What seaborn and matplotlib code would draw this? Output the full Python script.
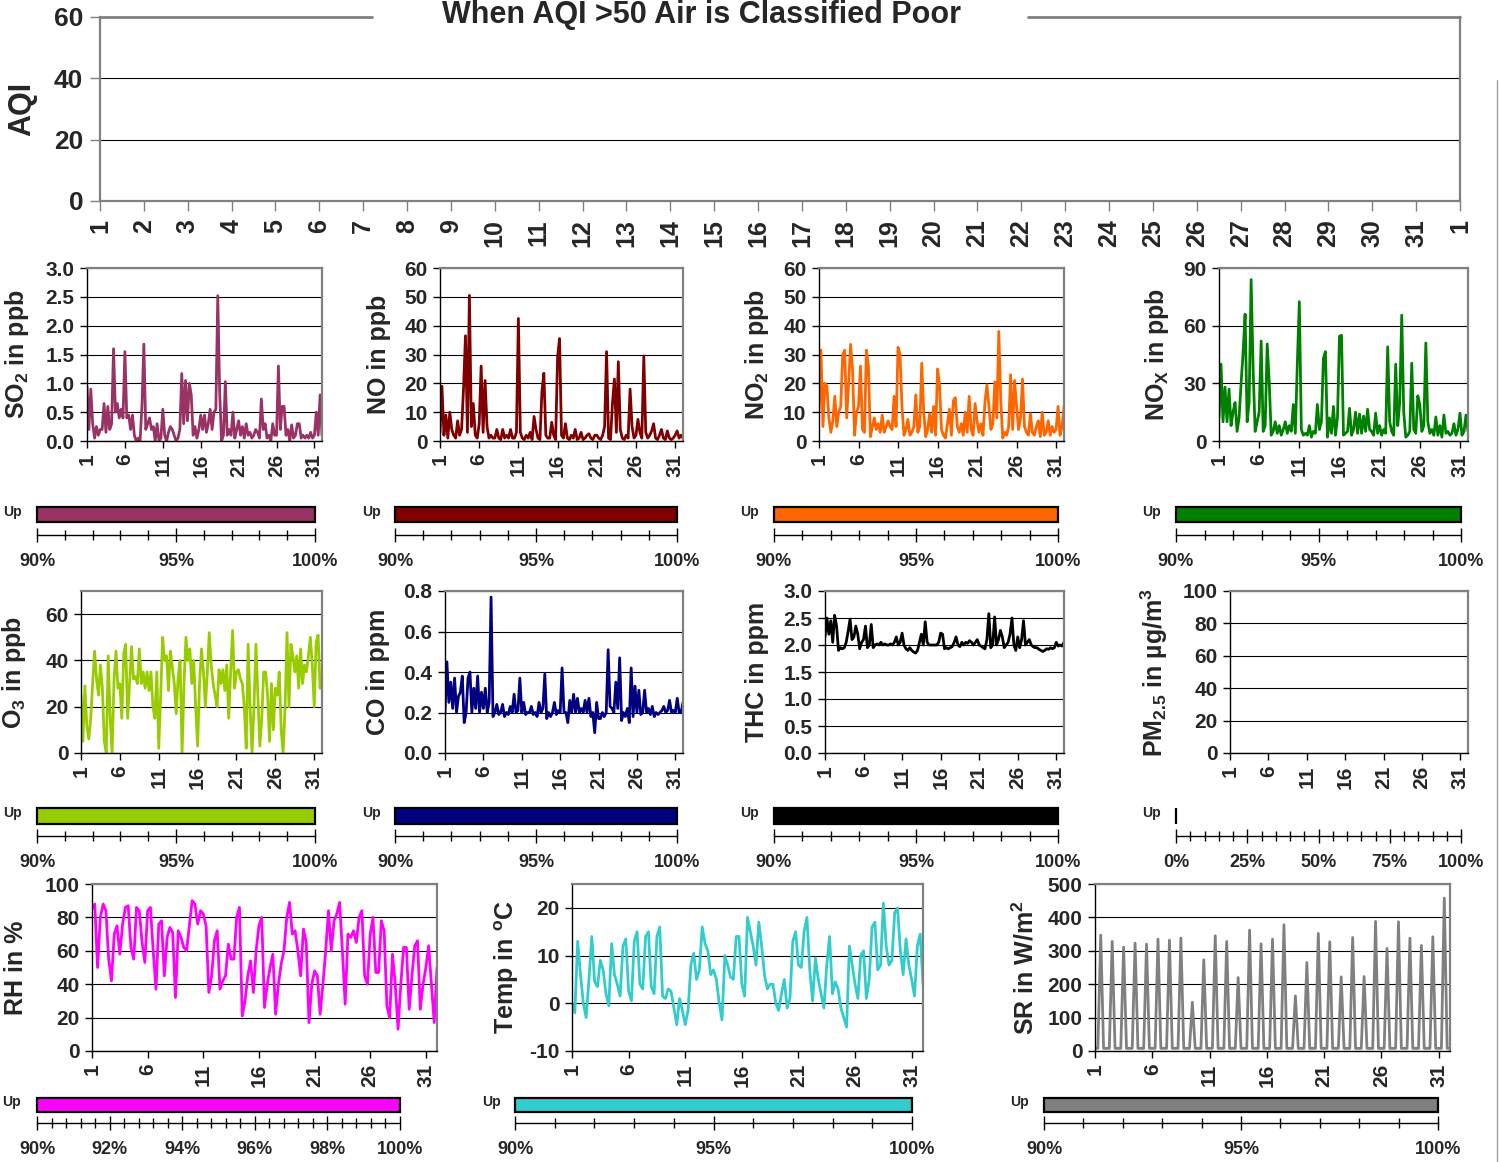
import numpy as np
import matplotlib
matplotlib.use('Agg')
import matplotlib.pyplot as plt
from matplotlib.lines import Line2D
from matplotlib.ticker import FixedLocator, MultipleLocator, FuncFormatter
import seaborn as sns

W, H = 1499, 1162

# hourly readings sampled every 6 h, day 1 00:00 .. day 32 00:00
hours = np.arange(0, 745, 6)
day = 1 + hours / 24

so2 = [0.95, 0.2, 0.9, 0.3,  0.05, 0.25, 0.1, 0.2,  0.2, 0.65, 0.15, 0.6,  0.2, 0.3, 1.6, 0.5,
       0.65, 0.4, 0.55, 0.4,  1.55, 0.4, 0.45, 0.2,  0.45, 0.1, 0.0, 0.05,  0.0, 0.6, 1.68, 0.2,
       0.3, 0.4, 0.2, 0.25,  0.0, 0.3, 0.0, 0.05,  0.55, 0.1, 0.0, 0.15,  0.25, 0.2, 0.1, 0.0,
       0.05, 0.2, 1.17, 0.3,  1.05, 0.35, 1.0, 0.8,  0.1, 0.25, 0.05, 0.2,  0.45, 0.2, 0.45, 0.15,
       0.3, 0.55, 0.2, 0.5,  0.55, 2.52, 0.85, 0.0,  0.1, 1.03, 0.1, 0.2,  0.1, 0.5, 0.05, 0.2,
       0.35, 0.1, 0.25, 0.05,  0.3, 0.1, 0.15, 0.05,  0.1, 0.2, 0.15, 0.05,  0.73, 0.2, 0.3, 0.05,
       0.1, 0.0, 0.3, 0.1,  0.1, 1.3, 0.2, 0.6,  0.6, 0.1, 0.2, 0.0,  0.28, 0.05, 0.1, 0.3,
       0.3, 0.05, 0.1, 0.05,  0.1, 0.05, 0.15, 0.05,  0.1, 0.5, 0.1, 0.8,  0.1]

no = [3, 19, 2, 9,  1, 10, 4, 2,  1, 7, 2, 4,  18, 36.5, 3, 50.5,  5, 13, 2, 1,  6, 26, 3, 21,
      5, 1, 2, 1,  1, 4, 1, 0.5,  4, 1, 2, 1,  4, 1, 1, 3,  42.5, 3, 1, 0.5,  2, 1, 3, 0.5,
      8.5, 4, 1, 0.5,  17, 23.5, 2, 1,  1, 6.5, 2, 0.5,  29, 35.5, 2, 1,  6, 1, 0.5, 2,
      1, 4, 0.5, 1,  3, 0.5, 1, 2,  2.5, 1, 0.5, 2,  2, 1, 0.5, 2,  5, 31, 1, 0.5,
      13, 21.5, 3, 27.5,  4, 1, 0.5, 2,  1, 18, 5, 1,  2, 7.5, 3, 1,  29.5, 3, 1, 2,
      3.5, 6, 1, 0.5,  2, 4, 1, 0.5,  3.5, 1, 0.5, 1,  2, 3.5, 1, 2,  1]

no2 = [10, 31.5, 5, 20,  19, 8, 3, 7,  15.5, 5, 10, 12,  30, 31.5, 8, 20,  33.5, 24.5, 2, 10,
       12, 26, 4, 3,  31.5, 26, 1.5, 5,  8, 4, 6, 3,  9, 3, 5, 7,  5, 4, 15.5, 5,
       32.5, 30, 12, 2,  4, 7.5, 2, 3,  5, 16, 3, 5,  27, 10, 1.5, 4,  9.5, 3, 12, 2,
       25, 19.5, 4, 2,  1, 6, 11, 2,  14, 15, 5, 3,  6, 2, 10, 3,  15.5, 4, 2, 13,
       7, 3, 6, 2,  13.5, 19.5, 12, 4,  6, 20.5, 8, 38,  14, 1, 3, 2,  5, 23, 4, 21,
       12, 4, 8, 21.5,  5, 3, 2, 9.5,  3, 2, 5, 7,  1.5, 10, 2, 3,  7, 2, 5, 3,
       4, 12, 2, 5,  12]

nox = [12, 40, 10, 28,  10, 27, 8, 15,  20, 5, 12, 30,  46, 66, 10, 20,  84, 37, 5, 10,
       15, 52, 5, 8,  50.5, 31, 3, 5,  10, 4, 8, 3,  6, 10, 4, 8,  5, 19, 4, 40,
       72.5, 6, 3, 4,  3, 8, 2, 5,  4, 19, 6, 10,  43, 46.5, 2, 12,  4, 18, 3, 12,
       54.5, 55, 3, 4,  5, 17, 3, 6,  15, 4, 14, 4,  13, 5, 16.5, 6,  5, 3, 14.5, 4,
       8, 3, 6, 4,  49, 10, 5, 3,  40, 8, 20, 65.5,  15, 2, 3, 5,  40.5, 6, 4, 23.5,
       19, 5, 8, 51,  10, 4, 6, 3,  12.5, 3, 8, 2,  13.5, 4, 5, 3,  4, 9, 3, 6,
       14.5, 3, 5, 13.5,  5]

o3 = [25, 5, 29, 12,  6, 15, 30, 44,  32, 25, 38, 28,  5, 0, 42, 15,  0, 32, 44, 28,
      30, 15, 43, 47,  15, 30, 46, 32,  33, 30, 45, 30,  35, 28, 35, 27,  35, 20, 15, 35,
      2, 25, 50, 40,  42, 27, 44, 37,  30, 17, 33, 40,  0, 30, 50, 40,  45, 30, 40, 20,
      3, 30, 45, 35,  20, 35, 52, 38,  30, 25, 20, 36,  30, 36, 27, 38,  15, 35, 53, 28,
      35, 36, 32, 30,  20, 2, 47, 20,  0, 20, 47, 25,  3, 15, 35, 35,  25, 5, 30, 10,
      28, 25, 35, 10,  0, 20, 52, 20,  47, 42, 35, 42,  28, 45, 30, 38,  35, 42, 50, 38,
      20, 48, 51, 28,  33]

co = [0.2, 0.45, 0.25, 0.35,  0.22, 0.37, 0.2, 0.28,  0.3, 0.38, 0.15, 0.2,  0.37, 0.4, 0.2, 0.32,
      0.22, 0.38, 0.2, 0.3,  0.22, 0.32, 0.2, 0.25,  0.77, 0.18, 0.2, 0.24,  0.19, 0.2, 0.24, 0.18,
      0.2, 0.19, 0.23, 0.2,  0.29, 0.2, 0.21, 0.37,  0.2, 0.25, 0.19, 0.2,  0.2, 0.23, 0.19, 0.2,
      0.18, 0.25, 0.2, 0.22,  0.39, 0.17, 0.2, 0.18,  0.2, 0.25, 0.19, 0.21,  0.2, 0.42, 0.2, 0.2,
      0.15, 0.26, 0.2, 0.29,  0.2, 0.27, 0.2, 0.22,  0.2, 0.26, 0.2, 0.27,  0.18, 0.2, 0.1, 0.25,
      0.17, 0.17, 0.2, 0.18,  0.2, 0.51, 0.23, 0.22,  0.2, 0.35, 0.22, 0.47,  0.16, 0.2, 0.18, 0.22,
      0.15, 0.42, 0.18, 0.33,  0.2, 0.31, 0.19, 0.2,  0.31, 0.2, 0.22, 0.19,  0.23, 0.18, 0.2, 0.19,
      0.2, 0.21, 0.23, 0.2,  0.21, 0.26, 0.2, 0.21,  0.2, 0.27, 0.2, 0.2,  0.25]

thc = [2.15, 2.5, 2.2, 2.45,  2.05, 2.55, 2.35, 1.9,  1.95, 1.93, 1.95, 2.05,  2.25, 2.48, 2.1, 2.15,
       2.35, 2.2, 1.93, 2.05,  2.1, 2.35, 1.95, 2.0,  2.38, 1.95, 2.0, 2.02,  2.0, 2.05, 2.0, 2.02,
       2.0, 2.0, 2.02, 2.0,  2.05, 2.15, 2.0, 2.05,  2.22, 2.0, 1.93, 1.9,  1.95, 1.9, 1.87, 1.85,
       1.9, 2.05, 2.2, 2.0,  2.43, 2.05, 2.0, 2.0,  2.0, 2.0, 2.0, 2.05,  2.22, 2.2, 1.93, 1.95,
       1.93, 1.95, 1.97, 2.05,  2.15, 2.0, 1.97, 2.05,  2.0, 2.05, 2.03, 2.08,  2.05, 2.0, 2.05, 2.1,
       2.0, 1.98, 1.95, 1.93,  2.1, 2.58, 1.95, 2.0,  2.52, 2.0, 2.1, 2.27,  2.15, 1.95, 2.0, 2.05,
       2.2, 2.5, 2.0, 1.9,  2.15, 1.95, 2.1, 2.45,  2.0, 2.05, 2.1, 2.0,  1.97, 1.95, 1.95, 1.92,
       1.9, 1.88, 1.9, 1.93,  1.92, 1.95, 1.93, 1.95,  2.05, 1.98, 2.0, 1.98,  2.05]

rh = [85, 88, 50, 80,  88, 84, 55, 42,  70, 75, 58, 76,  86, 87, 62, 55,  86, 84, 65, 53,
      84, 86, 60, 37,  76, 78, 45, 68,  74, 71, 32, 72,  68, 62, 60, 75,  90, 88, 76, 84,
      82, 75, 35, 45,  66, 72, 37, 42,  45, 64, 55, 55,  80, 86, 21, 30,  45, 54, 35, 60,
      75, 80, 26, 40,  50, 58, 22, 40,  52, 60, 80, 89,  70, 72, 60, 45,  73, 65, 17, 40,
      48, 45, 22, 40,  60, 84, 60, 78,  82, 89, 60, 28,  70, 68, 72, 65,  80, 84, 45, 40,
      70, 80, 47, 47,  78, 72, 27, 20,  58, 40, 13, 40,  62, 62, 25, 45,  63, 66, 25, 40,
      50, 63, 40, 17,  50]

temp = [0, -2, 13, 6,  0, -3, 5, 14,  4.5, 3.5, 9, 7,  2, -0.5, 12.5, 6,  4, 1.5, 12, 13.5,
        2.5, 0.5, 13, 15,  4, 3, 14, 15,  3.5, 2, 14, 16,  1.5, 1, 3, 2.5,  -1, -4.5, 1, -1.5,
        -4.5, -1.5, 8, 10.5,  5, 7, 16, 12.5,  11, 6, 7, 5,  0, -3.5, 10, 8,  5.5, 5, 14, 14,
        4, 1.5, 18, 15,  12, 8, 17, 12,  6, 3, 4, 4,  0, -1.5, 2, 5,  -1, 1, 13, 15,
        8, 7.5, 15, 18,  7, 0.5, 9.5, 5,  2, -1, 8, 14,  2, 4.5, 3, -1,  -3, -5, 12, 8,
        4, 1, 10, 11,  1, 5, 16, 17,  7, 8, 21, 12,  8, 9, 19, 20,  11, 6, 13.5, 8,
        5, 1.5, 12, 14.5,  4]

sr = [8, 8, 347, 8,  8, 8, 328, 8,  8, 8, 311, 8,  8, 8, 323, 8,  8, 8, 320, 8,
      8, 8, 335, 8,  8, 8, 332, 8,  8, 8, 338, 8,  8, 8, 146, 8,  8, 8, 273, 8,
      8, 8, 345, 8,  8, 8, 328, 8,  8, 8, 220, 8,  8, 8, 362, 8,  8, 8, 321, 8,
      8, 8, 335, 8,  8, 8, 378, 8,  8, 8, 165, 8,  8, 8, 265, 8,  8, 8, 352, 8,
      8, 8, 327, 8,  8, 8, 222, 8,  8, 8, 340, 8,  8, 8, 223, 8,  8, 8, 388, 8,
      8, 8, 307, 8,  8, 8, 387, 8,  8, 8, 338, 8,  8, 8, 316, 8,  8, 8, 342, 8,
      8, 8, 458, 8,  8]

pm25 = []  # no PM2.5 data in this month

aqi_day_labels = [str(d) for d in range(1, 32)] + ['1']
up_percent = {'SO2': 100, 'NO': 100, 'NO2': 100, 'NOX': 100, 'O3': 100, 'CO': 100,
              'THC': 100, 'PM25': 0, 'RH': 100, 'TEMP': 100, 'SR': 100}

sns.set_theme(style='white')
plt.rcParams['font.family'] = ['Liberation Sans', 'DejaVu Sans']
plt.rcParams['font.weight'] = 'bold'
plt.rcParams['axes.labelweight'] = 'bold'
plt.rcParams['mathtext.fontset'] = 'custom'
plt.rcParams['mathtext.rm'] = 'Liberation Sans:bold'
plt.rcParams['mathtext.bf'] = 'Liberation Sans:bold'
plt.rcParams['mathtext.default'] = 'bf'

GRAY = '#808080'

fig = plt.figure(figsize=(W / 100, H / 100), dpi=100)


def rect(l, t, r, b):
    return [l / W, 1 - b / H, (r - l) / W, (b - t) / H]


def series_panel(box, values, color, ylabel, ylim, yticks, fmt, label_right):
    l, t, r, b = box
    ax = fig.add_axes(rect(l, t, r, b))
    if len(values):
        sns.lineplot(x=day, y=values, color=color, lw=2.0, ax=ax)
    ax.set_xlim(1, 32)
    ax.set_ylim(*ylim)
    ax.xaxis.set_major_locator(FixedLocator(list(range(1, 32, 5))))
    ax.xaxis.set_major_formatter(FuncFormatter(lambda v, p: f'{v:.0f}'))
    ax.yaxis.set_major_locator(FixedLocator(yticks))
    ax.yaxis.set_major_formatter(FuncFormatter(lambda v, p: fmt.format(v)))
    ax.tick_params(axis='both', direction='out', length=5, width=1, color='black',
                   labelsize=15, pad=4, bottom=True, left=True)
    ax.tick_params(axis='x', labelrotation=90)
    ax.yaxis.grid(True, color='black', lw=0.8)
    ax.xaxis.grid(False)
    for side in ['top', 'right']:
        ax.spines[side].set_color(GRAY)
        ax.spines[side].set_linewidth(1.6)
    for side in ['left', 'bottom']:
        ax.spines[side].set_color('black')
        ax.spines[side].set_linewidth(1.0)
    ax.set_xlabel('')
    ax.set_ylabel(ylabel, fontsize=18, fontweight='bold')
    ax.yaxis.set_label_coords((label_right - l) / (r - l), 0.5)
    return ax


def up_panel(l, r, bar_t, bar_b, axis_y, value, color, lo, hi, major, minor, fmt, up_x):
    ax = fig.add_axes(rect(l, bar_t - 4, r, axis_y))
    ax.set_xlim(lo, hi)
    ax.set_ylim(axis_y, bar_t - 4)
    ax.barh(y=(bar_t + bar_b) / 2, width=value - lo, left=lo, height=bar_b - bar_t,
            color=color, edgecolor='black', lw=1.6, clip_on=False)
    for side in ['top', 'right', 'left']:
        ax.spines[side].set_visible(False)
    ax.spines['bottom'].set_color('black')
    ax.spines['bottom'].set_linewidth(1.0)
    ax.xaxis.set_major_locator(MultipleLocator(major))
    ax.xaxis.set_minor_locator(MultipleLocator(minor))
    ax.xaxis.set_major_formatter(FuncFormatter(lambda v, p: fmt.format(v)))
    ax.tick_params(axis='x', which='major', direction='inout', length=10, width=1,
                   color='black', labelsize=13, pad=8, bottom=True)
    ax.tick_params(axis='x', which='minor', direction='inout', length=7, width=1,
                   color='black', bottom=True)
    ax.set_yticks([])
    ax.grid(False)
    fig.text(up_x / W, 1 - ((bar_t + bar_b) / 2 - 3) / H, 'Up', fontsize=10,
             fontweight='bold', ha='left', va='center')
    return ax


# ---- top AQI panel (no AQI values reported) ----
ax = fig.add_axes(rect(100, 17, 1460, 201))
ax.set_xlim(1, 32)
ax.set_ylim(0, 60)
ax.set_xticks(list(range(1, 33)))
ax.set_xticklabels(aqi_day_labels, rotation=90, fontsize=18)
ax.set_yticks([0, 20, 40, 60])
ax.tick_params(axis='y', labelsize=19, length=7, width=1, pad=5, left=True, color=GRAY)
ax.tick_params(axis='x', length=7, width=1, pad=6, bottom=True, color=GRAY)
ax.yaxis.grid(True, color='black', lw=0.8)
ax.get_ygridlines()[-1].set_visible(False)
for s in ax.spines.values():
    s.set_color(GRAY)
    s.set_linewidth(1.6)
ax.spines['top'].set_visible(False)
ax.plot([0, (372 - 100) / 1360], [1, 1], transform=ax.transAxes, color=GRAY, lw=2, clip_on=False)
ax.plot([(1028 - 100) / 1360, 1], [1, 1], transform=ax.transAxes, color=GRAY, lw=2, clip_on=False)
ax.set_ylabel('AQI', fontsize=22, fontweight='bold')
ax.yaxis.set_label_coords((37 - 100) / 1360, 0.5)
fig.text(701 / W, 1 - 15 / H, 'When AQI >50 Air is Classified Poor', fontsize=22,
         fontweight='bold', ha='center', va='center')

# ---- row 1 ----
series_panel((87, 268, 322, 441), so2, '#993366', r'SO$_2$ in ppb', (0, 3), [0, 0.5, 1, 1.5, 2, 2.5, 3], '{:.1f}', 31)
series_panel((440, 268, 683, 441), no, '#800000', 'NO in ppb', (0, 60), [0, 10, 20, 30, 40, 50, 60], '{:.0f}', 391)
series_panel((819, 268, 1064, 441), no2, '#FF6600', r'NO$_2$ in ppb', (0, 60), [0, 10, 20, 30, 40, 50, 60], '{:.0f}', 771)
series_panel((1219, 268, 1468, 441), nox, '#008000', r'NO$_X$ in ppb', (0, 90), [0, 30, 60, 90], '{:.0f}', 1171)

up_panel(37, 315, 507, 522, 535, up_percent['SO2'], '#993366', 90, 100, 5, 1, '{:.0f}%', 3)
up_panel(395, 677, 507, 522, 535, up_percent['NO'], '#800000', 90, 100, 5, 1, '{:.0f}%', 362)
up_panel(774, 1058, 507, 522, 535, up_percent['NO2'], '#FF6600', 90, 100, 5, 1, '{:.0f}%', 740)
up_panel(1176, 1461, 507, 522, 535, up_percent['NOX'], '#008000', 90, 100, 5, 1, '{:.0f}%', 1142)

# ---- row 2 ----
series_panel((81, 591, 322, 753), o3, '#99CC00', r'O$_3$ in ppb', (0, 70), [0, 20, 40, 60], '{:.0f}', 28)
series_panel((445, 591, 683, 753), co, '#000080', 'CO in ppm', (0, 0.8), [0, 0.2, 0.4, 0.6, 0.8], '{:.1f}', 390)
series_panel((825, 591, 1064, 753), thc, '#000000', 'THC in ppm', (0, 3), [0, 0.5, 1, 1.5, 2, 2.5, 3], '{:.1f}', 769)
series_panel((1230, 591, 1468, 753), pm25, '#000000', r'PM$_{2.5}$ in µg/m$^3$', (0, 100), [0, 20, 40, 60, 80, 100], '{:.0f}', 1170)

up_panel(37, 315, 808, 824, 836, up_percent['O3'], '#99CC00', 90, 100, 5, 1, '{:.0f}%', 3)
up_panel(395, 677, 808, 824, 836, up_percent['CO'], '#000080', 90, 100, 5, 1, '{:.0f}%', 362)
up_panel(774, 1058, 808, 824, 836, up_percent['THC'], '#000000', 90, 100, 5, 1, '{:.0f}%', 740)
up_panel(1176, 1461, 808, 824, 836, up_percent['PM25'], '#000000', 0, 100, 25, 5, '{:.0f}%', 1142)

# ---- row 3 ----
series_panel((92, 884, 437, 1051), rh, '#FF00FF', 'RH in %', (0, 100), [0, 20, 40, 60, 80, 100], '{:.0f}', 28)
series_panel((572, 884, 923, 1051), temp, '#33CCCC', r'Temp in $^o$C', (-10, 25), [-10, 0, 10, 20], '{:.0f}', 521)
series_panel((1095, 884, 1450, 1051), sr, '#808080', r'SR in W/m$^2$', (0, 500), [0, 100, 200, 300, 400, 500], '{:.0f}', 1039)

up_panel(37, 400, 1098, 1112, 1123, up_percent['RH'], '#FF00FF', 90, 100, 2, 0.4, '{:.0f}%', 2)
up_panel(515, 912, 1098, 1112, 1123, up_percent['TEMP'], '#33CCCC', 90, 100, 5, 1, '{:.0f}%', 482)
up_panel(1044, 1438, 1098, 1112, 1123, up_percent['SR'], '#808080', 90, 100, 5, 1, '{:.0f}%', 1010)

fig.add_artist(Line2D([1497 / W, 1497 / W], [0, 1 - 80 / H], color='#a0a0a0', lw=1))

fig.savefig('out.png', dpi=100)
